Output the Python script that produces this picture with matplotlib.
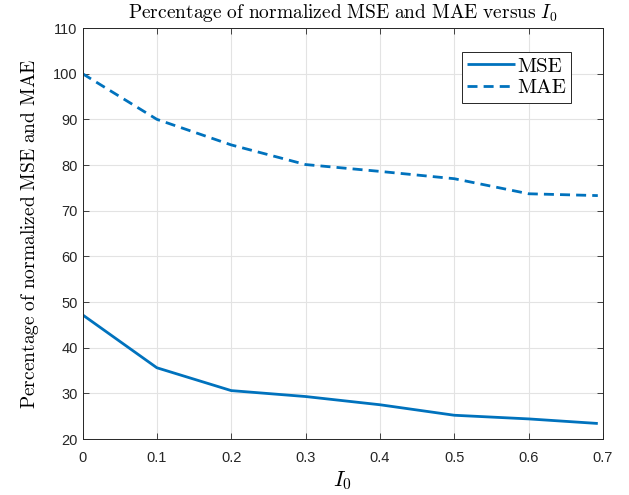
import matplotlib
matplotlib.use("Agg")
import matplotlib.pyplot as plt

# Data
i0 = [0.0, 0.1, 0.2, 0.3, 0.4, 0.5, 0.6, 0.693]
mse = [47.2, 35.6, 30.6, 29.3, 27.5, 25.2, 24.4, 23.4]
mae = [100.0, 90.0, 84.4, 80.1, 78.6, 77.0, 73.7, 73.3]
xticks = [0, 0.1, 0.2, 0.3, 0.4, 0.5, 0.6, 0.7]
xtick_labels = ["0", "0.1", "0.2", "0.3", "0.4", "0.5", "0.6", "0.7"]
yticks = [20, 30, 40, 50, 60, 70, 80, 90, 100, 110]

plt.rcParams['mathtext.fontset'] = 'cm'
plt.rcParams['font.family'] = ['Liberation Sans', 'DejaVu Sans']

color = '#0072BD'
fig = plt.figure(figsize=(6.29, 4.95), dpi=100)
ax = fig.add_axes([82.5/629, 1 - 439/495, 520.5/629, 411/495])

ax.plot(i0, mse, color=color, lw=2.0, label='MSE', solid_capstyle='butt')
ax.plot(i0, mae, color=color, lw=2.0, ls='--', dashes=(3.6, 2.2), label='MAE',
        dash_capstyle='butt')

ax.set_xlim(0, 0.7)
ax.set_ylim(20, 110)
ax.set_xticks(xticks)
ax.set_xticklabels(xtick_labels)
ax.set_yticks(yticks)
ax.tick_params(direction='in', top=True, right=True, labelsize=10.5, colors='#262626',
               length=4, width=0.6)
ax.tick_params(axis='x', pad=8.5)
for s in ax.spines.values():
    s.set_color('#262626')
    s.set_linewidth(0.7)
ax.grid(True, color='#e3e3e3', lw=0.8)
ax.set_axisbelow(True)

ax.set_title(r'$\mathrm{Percentage\ of\ normalized\ MSE\ and\ MAE\ versus\ }I_0$',
             fontsize=14, pad=7)
ax.set_xlabel(r'$I_0$', fontsize=16, labelpad=3)
ax.set_ylabel(r'$\mathrm{Percentage\ of\ normalized\ MSE\ and\ MAE}$', fontsize=14, labelpad=9)

leg = ax.legend(loc='upper right', bbox_to_anchor=((571 - 82.5)/520.5, (439 - 52)/411),
                borderaxespad=0, fancybox=False, edgecolor='#262626', framealpha=1,
                prop={'family': 'cmr10', 'size': 15}, handlelength=2.3,
                handletextpad=0.1, borderpad=0.25, labelspacing=0.15)
leg.get_frame().set_linewidth(0.7)

fig.savefig('out.png', dpi=100)
